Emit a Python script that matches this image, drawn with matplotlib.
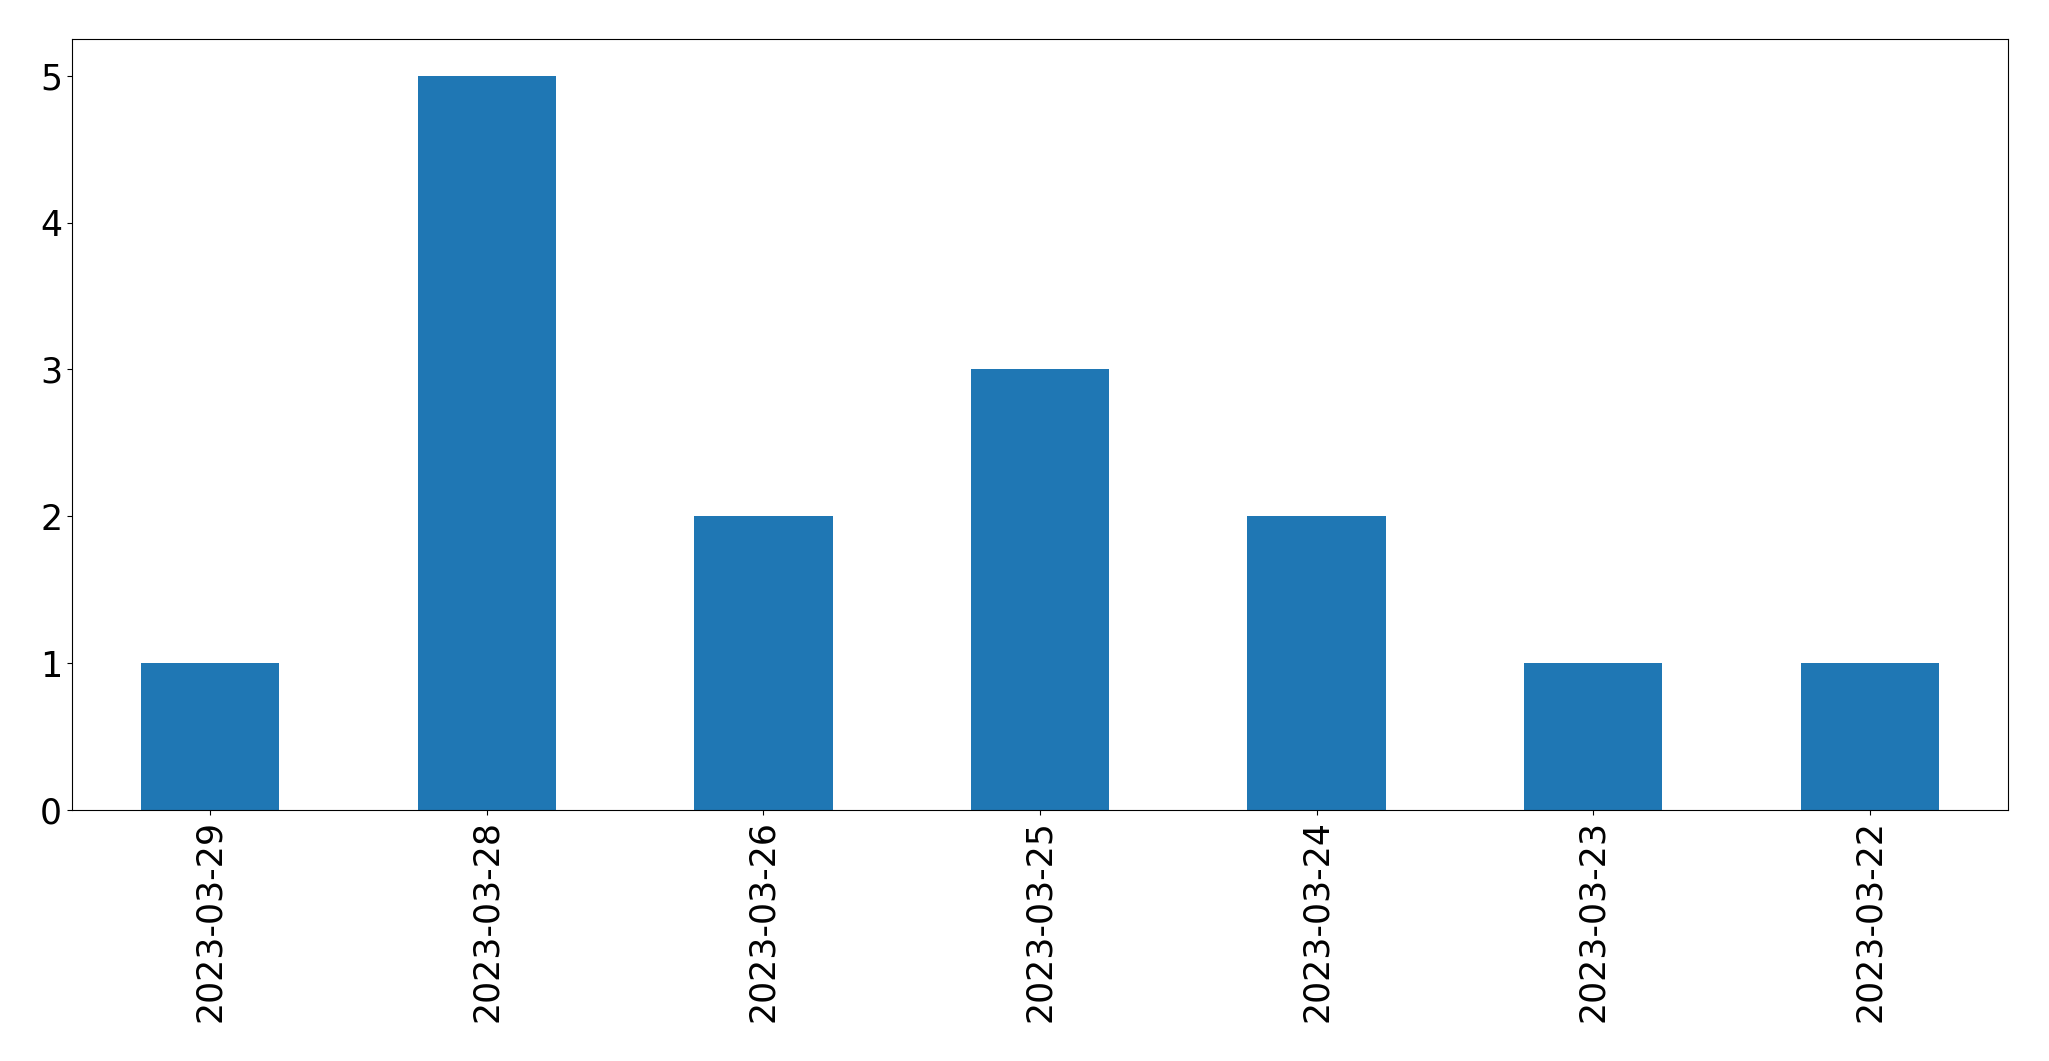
import matplotlib
matplotlib.use("Agg")
import matplotlib.pyplot as plt

# daily counts, in the order shown
dates = ['2023-03-29', '2023-03-28', '2023-03-26', '2023-03-25',
         '2023-03-24', '2023-03-23', '2023-03-22']
counts = [1, 5, 2, 3, 2, 1, 1]

fig = plt.figure(figsize=(20.49, 10.61), dpi=100)
ax = fig.add_axes([0.0351, 0.2366, 0.9449, 0.7266])

x = range(len(dates))
ax.bar(x, counts, width=0.5, color='#1f77b4')
ax.set_xlim(-0.5, len(dates) - 0.5)
ax.set_ylim(0, 5.25)
ax.set_xticks(list(x))
ax.set_xticklabels(dates, rotation=90)
ax.set_yticks(range(0, 6))
ax.tick_params(labelsize=25)

fig.savefig('out.png', dpi=100)
